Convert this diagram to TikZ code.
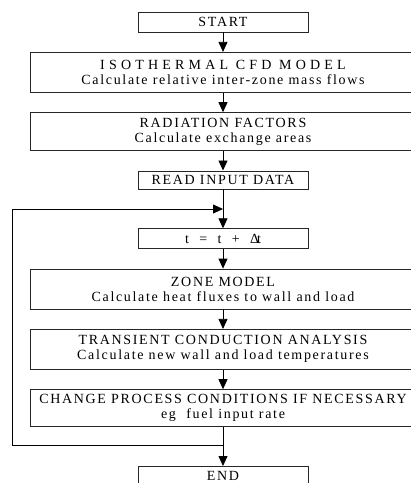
\documentclass[tikz,border=0pt]{standalone}
\usepackage{fontspec}
\setmainfont{Liberation Serif}[LetterSpace=12]
\usetikzlibrary{positioning,arrows.meta}
\tikzset{
  arr/.style = {-{Triangle[length=10pt,width=9pt]},line width=0.8pt},
  stepbox/.style = {draw=black!85,line width=0.8pt,minimum width=170pt,minimum height=20pt,inner sep=2pt,font=\fontsize{14}{15}\selectfont},
  widebox/.style = {stepbox,minimum width=386pt,minimum height=40pt,align=center}
}
\newlength{\vgap}
\setlength{\vgap}{19.5pt}
\newcommand{\widecaps}[1]{{\addfontfeature{LetterSpace=30}#1}}

\begin{document}
\begin{tikzpicture}[x=1pt,y=-1pt]
\useasboundingbox (0,0) rectangle (411,483);

\node[stepbox] (start) at (223,22) {START};

\node[widebox,below=\vgap of start] (cfd) {\widecaps{ISOTHERMAL CFD MODEL}\\Calculate relative inter-zone mass flows};

\node[widebox,minimum height=38pt,below=\vgap of cfd] (rad) {RADIATION FACTORS\\Calculate exchange areas};

\node[stepbox,minimum height=18pt,below=\vgap of rad] (read) {READ INPUT DATA};

\node[stepbox,below=2\vgap of read] (tstep) {t \ = \ t \ + \ Δ\kern-2pt t};

\node[widebox,below=\vgap of tstep] (zone) {ZONE MODEL\\Calculate heat fluxes to wall and load};

\node[widebox,below=\vgap of zone] (trans) {TRANSIENT CONDUCTION ANALYSIS\\Calculate new wall and load temperatures};

\node[widebox,minimum height=37pt,below=\vgap of trans] (change) {CHANGE PROCESS CONDITIONS IF NECESSARY\\eg \ fuel input rate};

\node[stepbox,below=2\vgap of change] (end) {END};

\coordinate (loopin) at (223,209);
\coordinate (loopout) at (223,445);
\coordinate (loopleft) at (12,445);

\draw[arr] (start) -- (cfd);
\draw[arr] (cfd) -- (rad);
\draw[arr] (rad) -- (read);
\draw[arr] (read) -- (tstep);
\draw[arr] (tstep) -- (zone);
\draw[arr] (zone) -- (trans);
\draw[arr] (trans) -- (change);
\draw[arr] (change) -- (end);
\draw[arr] (loopout) -- (loopleft) |- (loopin);
\end{tikzpicture}
\end{document}
